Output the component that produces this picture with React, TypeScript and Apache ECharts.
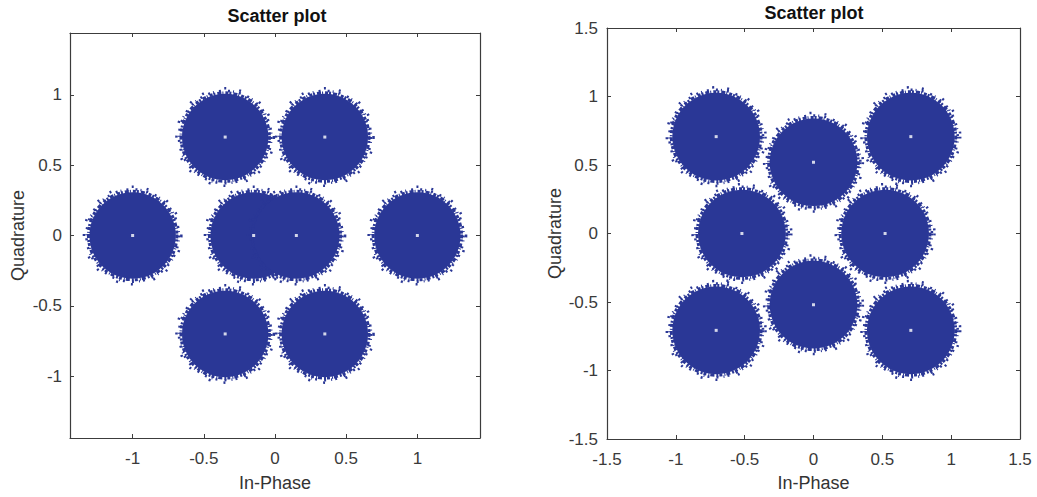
import React, { useEffect, useRef } from "react";
import * as echarts from "echarts";

// Left constellation (ideal points) and its cluster radius
const leftI = [-1, -0.35, 0.35, -0.15, 0.15, 1, -0.35, 0.35];
const leftQ = [0, 0.7, 0.7, 0, 0, 0, -0.7, -0.7];
const leftRadius = 0.3;
const leftRange = [-1.44, 1.44];
const leftTicks = [-1, -0.5, 0, 0.5, 1];

// Right constellation (8 points)
const rightI = [-0.707, 0, 0.707, -0.52, 0.52, -0.707, 0, 0.707];
const rightQ = [0.707, 0.52, 0.707, 0, 0, -0.707, -0.52, -0.707];
const rightRadius = 0.315;
const rightRange = [-1.5, 1.5];
const rightTicks = [-1.5, -1, -0.5, 0, 0.5, 1, 1.5];

const titleText = "Scatter plot";
const xName = "In-Phase";
const yName = "Quadrature";

const BLUE = "#2a3796";
const AXIS = "#3c3c3c";
const FONT = "Liberation Sans";

function pairs(a: number[], b: number[]) {
  return a.map((v, i) => [v, b[i]]);
}

function cloud(R: number) {
  return (params: any, api: any) => {
    const c = api.coord([api.value(0), api.value(1)]);
    const r = api.size([R, R])[0];
    return {
      type: "group",
      children: [
        { type: "circle", shape: { cx: c[0], cy: c[1], r: r + 0.5 }, style: { fill: BLUE } },
        {
          type: "circle",
          shape: { cx: c[0], cy: c[1], r: r + 1.5 },
          style: { fill: "none", stroke: BLUE, lineWidth: 3, lineDash: [3, 1, 2, 2, 4, 1, 1, 2] },
        },
        {
          type: "circle",
          shape: { cx: c[0], cy: c[1], r: r + 3.5 },
          style: { fill: "none", stroke: BLUE, lineWidth: 2.5, lineDash: [2, 3, 1, 5, 2, 7] },
        },
        {
          type: "circle",
          shape: { cx: c[0], cy: c[1], r: r + 6 },
          style: { fill: "none", stroke: BLUE, lineWidth: 2.5, lineDash: [2, 13, 2, 21] },
        },
      ],
    };
  };
}

function axisPair(
  kind: "x" | "y",
  gridIndex: number,
  range: number[],
  ticks: number[],
  main: boolean,
  labelMargin: number,
  nameGap: number
) {
  const base: any = {
    type: "value",
    gridIndex,
    min: range[0],
    max: range[1],
    splitLine: { show: false },
    axisLine: { show: true, onZero: false, lineStyle: { color: AXIS, width: 1.2 } },
    axisTick: {
      show: true,
      inside: true,
      length: 4,
      customValues: ticks,
      lineStyle: { color: AXIS },
    },
  };
  if (main) {
    base.position = kind === "x" ? "bottom" : "left";
    base.axisLabel = {
      show: true,
      customValues: ticks,
      margin: labelMargin,
      color: "#3a3a3a",
      fontSize: 17,
      fontFamily: FONT,
      formatter: (v: number) => String(v),
    };
    base.name = kind === "x" ? xName : yName;
    base.nameLocation = "middle";
    base.nameGap = nameGap;
    base.nameTextStyle = { color: "#333", fontSize: 18, fontFamily: FONT };
  } else {
    base.position = kind === "x" ? "top" : "right";
    base.axisLabel = { show: false };
  }
  return base;
}

export default function App() {
  const ref = useRef<HTMLDivElement>(null);
  useEffect(() => {
    const chart = echarts.init(ref.current!, null, { renderer: "svg" });
    chart.setOption({
      animation: false,
      backgroundColor: "#ffffff",
      grid: [
        { left: 70, top: 33, width: 410, height: 408 },
        { left: 607, top: 28, width: 413, height: 414 },
      ],
      xAxis: [
        axisPair("x", 0, leftRange, leftTicks, true, 12, 36),
        axisPair("x", 0, leftRange, leftTicks, false, 0, 0),
        axisPair("x", 1, rightRange, rightTicks, true, 12, 35),
        axisPair("x", 1, rightRange, rightTicks, false, 0, 0),
      ],
      yAxis: [
        axisPair("y", 0, leftRange, leftTicks, true, 8, 43),
        axisPair("y", 0, leftRange, leftTicks, false, 0, 0),
        axisPair("y", 1, rightRange, rightTicks, true, 9, 43),
        axisPair("y", 1, rightRange, rightTicks, false, 0, 0),
      ],
      graphic: [
        {
          type: "text",
          x: 277,
          y: 16,
          style: {
            text: titleText,
            textAlign: "center",
            textVerticalAlign: "middle",
            font: `bold 18px "${FONT}"`,
            fill: "#111",
          },
        },
        {
          type: "text",
          x: 814,
          y: 13,
          style: {
            text: titleText,
            textAlign: "center",
            textVerticalAlign: "middle",
            font: `bold 18px "${FONT}"`,
            fill: "#111",
          },
        },
      ],
      series: [
        {
          type: "custom",
          xAxisIndex: 0,
          yAxisIndex: 0,
          data: pairs(leftI, leftQ),
          renderItem: cloud(leftRadius),
          z: 2,
        },
        {
          type: "scatter",
          xAxisIndex: 0,
          yAxisIndex: 0,
          data: pairs(leftI, leftQ),
          symbol: "rect",
          symbolSize: 3,
          itemStyle: { color: "#ffffff" },
          z: 3,
        },
        {
          type: "custom",
          xAxisIndex: 2,
          yAxisIndex: 2,
          data: pairs(rightI, rightQ),
          renderItem: cloud(rightRadius),
          z: 2,
        },
        {
          type: "scatter",
          xAxisIndex: 2,
          yAxisIndex: 2,
          data: pairs(rightI, rightQ),
          symbol: "rect",
          symbolSize: 3,
          itemStyle: { color: "#ffffff" },
          z: 3,
        },
      ],
    });
    return () => chart.dispose();
  }, []);
  return (
    <div
      ref={ref}
      style={{ position: "absolute", left: 0, top: 0, width: 1037, height: 497 }}
    />
  );
}
